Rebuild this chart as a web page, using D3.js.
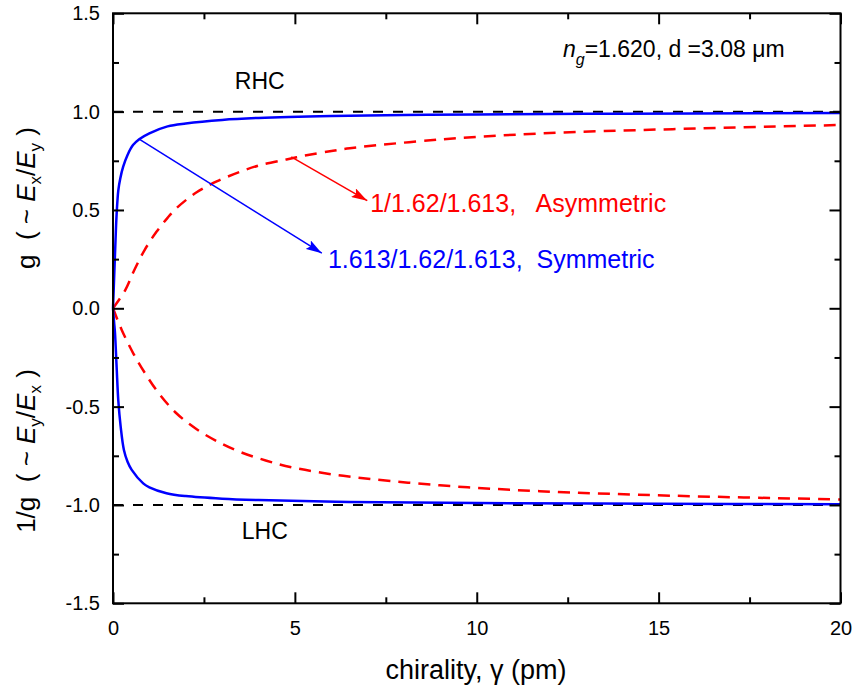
<!DOCTYPE html>
<html><head><meta charset="utf-8">
<script src="https://cdn.jsdelivr.net/npm/d3@7"></script>
<style>
html,body{margin:0;padding:0;background:#fff;}
text{font-family:"Liberation Sans",Arial,Helvetica,sans-serif;}
</style></head>
<body><svg id="c" width="856" height="691"></svg>
<script>
// ---- data ----
const symUpperX = [0, 0.03, 0.07, 0.1, 0.146, 0.2, 0.28, 0.4, 0.55, 0.72, 1.0, 1.5, 2, 3, 4, 6, 8, 10, 13, 16, 20];
const symUpperY = [0, 0.15, 0.35, 0.48, 0.60, 0.66, 0.72, 0.78, 0.83, 0.86, 0.89, 0.925, 0.94, 0.958, 0.968, 0.978, 0.983, 0.986, 0.989, 0.991, 0.993];
const symLowerX = [0, 0.03, 0.055, 0.1, 0.146, 0.21, 0.3, 0.4, 0.51, 0.83, 1.0, 1.47, 2, 3, 4, 6.5, 10, 15, 20];
const symLowerY = [0, -0.07, -0.126, -0.30, -0.47, -0.60, -0.72, -0.78, -0.82, -0.89, -0.91, -0.94, -0.955, -0.968, -0.975, -0.985, -0.99, -0.994, -0.996];
const asymUpperX = [0, 0.33, 0.6, 0.88, 1.2, 1.5, 1.75, 2.3, 2.85, 3.49, 4.04, 4.77, 5.32, 6.05, 6.51, 8.98, 11.73, 15.39, 20];
const asymUpperY = [0, 0.09, 0.20, 0.30, 0.39, 0.46, 0.51, 0.59, 0.645, 0.694, 0.728, 0.757, 0.778, 0.801, 0.814, 0.858, 0.889, 0.911, 0.932];
const asymLowerX = [0, 0.24, 0.56, 0.88, 1.25, 1.75, 2.3, 2.85, 3.49, 4.22, 4.95, 6.33, 8.98, 11.73, 15.39, 20];
const asymLowerY = [0, -0.11, -0.23, -0.33, -0.43, -0.535, -0.615, -0.675, -0.73, -0.775, -0.81, -0.852, -0.90, -0.93, -0.953, -0.972];
const refLevels = [1, -1];
const xTicks = [0, 5, 10, 15, 20];
const xMinor = [2.5, 7.5, 12.5, 17.5];
const yTicks = [-1.5, -1.0, -0.5, 0.0, 0.5, 1.0, 1.5];
const yMinor = [-1.25, -0.75, -0.25, 0.25, 0.75, 1.25];

// ---- layout ----
const svg = d3.select("#c");
const L = 113, R = 840.5, T = 13.3, B = 603.3;
const x = d3.scaleLinear().domain([0, 20]).range([L, R]);
const y = d3.scaleLinear().domain([-1.5, 1.5]).range([B, T]);
const BLUE = "#0000ff", RED = "#ff0000";

const defs = svg.append("defs");
function marker(id, col){
  defs.append("marker").attr("id", id).attr("viewBox", "0 0 16 10")
    .attr("refX", 16).attr("refY", 5).attr("markerWidth", 16).attr("markerHeight", 10)
    .attr("markerUnits", "userSpaceOnUse").attr("orient", "auto")
    .append("path").attr("d", "M0,0 L16,5 L0,10 L3,5 Z").attr("fill", col);
}
marker("ab", BLUE); marker("ar", RED);

// reference dashed lines
svg.selectAll("line.ref").data(refLevels).enter().append("line")
  .attr("x1", L).attr("x2", R).attr("y1", d => y(d)).attr("y2", d => y(d))
  .attr("stroke", "#000").attr("stroke-width", 2).attr("stroke-dasharray", "10,10");

const line = d3.line().x(d => x(d[0])).y(d => y(d[1])).curve(d3.curveCatmullRom.alpha(0.5));
function series(xs, ys){ return xs.map((v, i) => [v, ys[i]]); }

svg.append("path").datum(series(asymUpperX, asymUpperY)).attr("d", line)
  .attr("fill", "none").attr("stroke", RED).attr("stroke-width", 2.5).attr("stroke-dasharray", "12,8");
svg.append("path").datum(series(asymLowerX, asymLowerY)).attr("d", line)
  .attr("fill", "none").attr("stroke", RED).attr("stroke-width", 2.5).attr("stroke-dasharray", "12,8");
svg.append("path").datum(series(symUpperX, symUpperY)).attr("d", line)
  .attr("fill", "none").attr("stroke", BLUE).attr("stroke-width", 2.5);
svg.append("path").datum(series(symLowerX, symLowerY)).attr("d", line)
  .attr("fill", "none").attr("stroke", BLUE).attr("stroke-width", 2.5);

// frame
svg.append("rect").attr("x", L).attr("y", T).attr("width", R - L).attr("height", B - T)
  .attr("fill", "none").attr("stroke", "#000").attr("stroke-width", 2);

// axes (ticks inward)
const fmtY = d => d3.format(".1f")(d).replace("\u2212", "-");
const gx = svg.append("g").attr("transform", `translate(0,${B})`)
  .call(d3.axisBottom(x).tickValues(xTicks).tickSize(-11).tickPadding(18).tickFormat(d3.format("d")));
const gxm = svg.append("g").attr("transform", `translate(0,${B})`)
  .call(d3.axisBottom(x).tickValues(xMinor).tickSize(-6).tickFormat(""));
const gxt = svg.append("g").attr("transform", `translate(0,${T})`)
  .call(d3.axisTop(x).tickValues(xTicks).tickSize(-11).tickFormat(""));
const gxtm = svg.append("g").attr("transform", `translate(0,${T})`)
  .call(d3.axisTop(x).tickValues(xMinor).tickSize(-6).tickFormat(""));
const gy = svg.append("g").attr("transform", `translate(${L},0)`)
  .call(d3.axisLeft(y).tickValues(yTicks).tickSize(-11).tickPadding(13).tickFormat(fmtY));
const gym = svg.append("g").attr("transform", `translate(${L},0)`)
  .call(d3.axisLeft(y).tickValues(yMinor).tickSize(-6).tickFormat(""));
const gyr = svg.append("g").attr("transform", `translate(${R},0)`)
  .call(d3.axisRight(y).tickValues(yTicks).tickSize(-11).tickFormat(""));
const gyrm = svg.append("g").attr("transform", `translate(${R},0)`)
  .call(d3.axisRight(y).tickValues(yMinor).tickSize(-6).tickFormat(""));
[gx, gxm, gxt, gxtm, gy, gym, gyr, gyrm].forEach(g => {
  g.select(".domain").remove();
  g.selectAll(".tick line").attr("stroke", "#000").attr("stroke-width", 2);
  g.selectAll(".tick text").attr("font-size", 20).attr("fill", "#000")
    .attr("font-family", "'Liberation Sans', Arial, sans-serif");
});
gx.selectAll(".tick text").attr("dy", "0.71em");

// axis titles
svg.append("text").attr("x", 476).attr("y", 679).attr("text-anchor", "middle")
  .attr("font-size", 27).text("chirality, γ (pm)");

function yLabel(cy, first, s1, s2){
  const t = svg.append("text").attr("transform", `translate(35,${cy}) rotate(-90)`)
    .attr("text-anchor", "middle").attr("font-size", 26).attr("xml:space", "preserve");
  t.append("tspan").text(first + "  ( ~ ");
  t.append("tspan").attr("font-style", "italic").text("E");
  t.append("tspan").attr("font-size", 17).attr("dy", 6).text(s1);
  t.append("tspan").attr("dy", -6).text("/");
  t.append("tspan").attr("font-style", "italic").text("E");
  t.append("tspan").attr("font-size", 17).attr("dy", 6).text(s2);
  t.append("tspan").attr("dy", -6).text(" )");
}
yLabel(198, "g", "x", "y");
yLabel(451, "1/g", "y", "x");

// annotations
svg.append("text").attr("x", x(3.35)).attr("y", y(1.113)).attr("font-size", 23).text("RHC");
svg.append("text").attr("x", x(3.54)).attr("y", y(-1.173)).attr("font-size", 23).text("LHC");

const ng = svg.append("text").attr("x", x(12.37)).attr("y", y(1.278)).attr("font-size", 23);
ng.append("tspan").attr("font-style", "italic").text("n");
ng.append("tspan").attr("font-style", "italic").attr("font-size", 16).attr("dy", 8).text("g");
ng.append("tspan").attr("dy", -8).text("=1.620, d =3.08 μm");

svg.append("line").attr("x1", x(4.9)).attr("y1", y(0.77)).attr("x2", x(6.99)).attr("y2", y(0.547))
  .attr("stroke", RED).attr("stroke-width", 1.5).attr("marker-end", "url(#ar)");
svg.append("line").attr("x1", x(0.72)).attr("y1", y(0.86)).attr("x2", x(5.74)).attr("y2", y(0.28))
  .attr("stroke", BLUE).attr("stroke-width", 1.5).attr("marker-end", "url(#ab)");

svg.append("text").attr("x", x(7.07)).attr("y", y(0.488)).attr("font-size", 25).attr("fill", RED)
  .attr("xml:space", "preserve").text("1/1.62/1.613,   Asymmetric");
svg.append("text").attr("x", x(5.91)).attr("y", y(0.203)).attr("font-size", 25).attr("fill", BLUE)
  .attr("xml:space", "preserve").text("1.613/1.62/1.613,  Symmetric");
</script></body></html>
